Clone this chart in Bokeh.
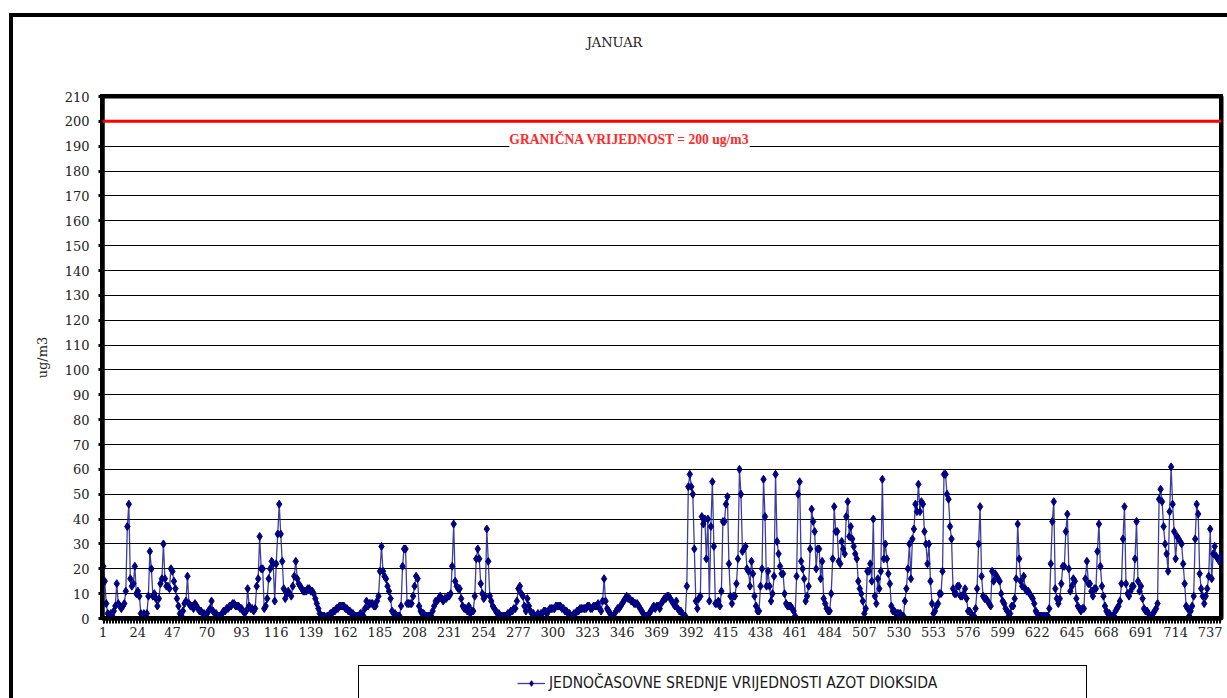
from bokeh.plotting import figure
from bokeh.layouts import column
from bokeh.models import (Range1d, FixedTicker, Span, Label,
                          Legend, LegendItem, ColumnDataSource)
from bokeh.embed import file_html
from bokeh.resources import INLINE

# ---------------- data (hourly NO2, January, ug/m3) ----------------
title_text = "JANUAR"
limit_value = 200
limit_text = "GRANIČNA VRIJEDNOST = 200 ug/m3"
y_label = "ug/m3"
series_name = "JEDNOČASOVNE SREDNJE VRIJEDNOSTI AZOT DIOKSIDA"

x_tick_values = list(range(1, 745, 23))
y_tick_values = list(range(0, 211, 10))

no2_days_01_08 = [
    21, 15, 6, 2, 1, 2, 1, 3, 5, 14, 6, 5, 4, 5, 6, 11, 37, 46, 16, 13, 14, 21, 10, 11,
    9, 2, 1, 2, 1, 2, 9, 27, 20, 9, 10, 8, 5, 8, 14, 16, 30, 16, 13, 13, 12, 20, 19, 15,
    12, 8, 5, 2, 1, 3, 6, 7, 17, 6, 5, 5, 4, 6, 5, 4, 3, 3, 2, 2, 1, 2, 3, 4,
    7, 3, 2, 2, 1, 1, 1, 2, 3, 3, 4, 4, 5, 5, 6, 6, 5, 5, 5, 4, 4, 3, 2, 3,
    12, 5, 4, 4, 3, 4, 13, 16, 33, 20, 20, 4, 5, 8, 16, 20, 23, 22, 7, 22, 34, 46, 34, 23,
    12, 8, 10, 11, 10, 9, 13, 17, 23, 16, 14, 13, 12, 11, 11, 11, 12, 12, 11, 11, 10, 8, 6, 4,
    2, 1, 1, 1, 0, 1, 1, 2, 2, 3, 3, 4, 4, 5, 5, 5, 5, 4, 4, 3, 3, 2, 2, 1,
    1, 1, 1, 2, 2, 1, 4, 7, 5, 6, 6, 6, 5, 5, 7, 9, 19, 29, 19, 17, 16, 13, 11, 8,
]
no2_days_09_16 = [
    3, 2, 2, 1, 1, 1, 5, 21, 28, 28, 6, 6, 6, 6, 9, 13, 17, 16, 5, 3, 2, 2, 1, 1,
    1, 1, 1, 3, 5, 7, 7, 8, 9, 8, 7, 8, 8, 9, 9, 10, 21, 38, 15, 13, 12, 12, 8, 5,
    4, 4, 3, 5, 2, 3, 3, 9, 24, 28, 24, 14, 10, 8, 9, 36, 23, 9, 7, 5, 4, 3, 2, 2,
    1, 1, 1, 1, 1, 2, 2, 3, 3, 4, 4, 7, 12, 13, 10, 9, 5, 3, 8, 5, 3, 2, 2, 1,
    1, 2, 1, 2, 2, 3, 3, 2, 3, 4, 4, 4, 4, 5, 5, 5, 5, 4, 4, 3, 3, 2, 2, 1,
    1, 2, 2, 3, 3, 4, 4, 4, 4, 4, 5, 5, 4, 4, 5, 5, 5, 6, 4, 3, 7, 16, 7, 4,
    3, 2, 1, 1, 2, 3, 4, 4, 5, 6, 7, 8, 9, 8, 8, 7, 7, 6, 6, 6, 5, 4, 3, 2,
    1, 1, 1, 2, 3, 4, 5, 4, 5, 5, 4, 6, 7, 8, 8, 9, 9, 8, 7, 6, 5, 7, 4, 3,
]
no2_days_17_24 = [
    3, 2, 1, 1, 13, 53, 58, 53, 50, 28, 7, 4, 8, 9, 41, 38, 40, 24, 40, 7, 37, 55, 29, 6,
    6, 7, 5, 11, 39, 39, 46, 49, 22, 9, 6, 9, 9, 14, 24, 60, 50, 27, 28, 29, 20, 19, 13, 23,
    18, 9, 5, 3, 3, 13, 20, 56, 41, 13, 19, 13, 7, 10, 17, 58, 31, 26, 21, 18, 18, 10, 6, 5,
    5, 5, 4, 3, 1, 17, 50, 55, 23, 20, 16, 7, 9, 13, 28, 44, 39, 35, 20, 28, 28, 16, 23, 8,
    6, 4, 3, 3, 10, 24, 45, 35, 35, 23, 22, 31, 28, 26, 41, 47, 33, 37, 32, 29, 26, 24, 15, 12,
    10, 7, 2, 4, 19, 19, 22, 15, 40, 9, 6, 16, 12, 19, 56, 24, 30, 24, 18, 14, 5, 3, 3, 2,
    2, 2, 2, 1, 1, 7, 12, 20, 30, 16, 32, 36, 46, 43, 54, 43, 47, 46, 35, 30, 22, 30, 15, 6,
    2, 3, 5, 6, 10, 10, 19, 58, 58, 50, 48, 37, 32, 12, 10, 10, 13, 13, 9, 9, 10, 12, 8, 3,
]
no2_days_25_31 = [
    3, 2, 1, 1, 4, 12, 30, 45, 17, 9, 8, 8, 7, 6, 5, 19, 15, 18, 17, 16, 15, 10, 7, 6,
    4, 3, 1, 2, 5, 5, 8, 16, 38, 24, 15, 13, 17, 12, 11, 11, 10, 9, 8, 6, 3, 2, 1, 1,
    1, 1, 1, 1, 1, 4, 22, 39, 47, 12, 8, 6, 8, 14, 21, 21, 35, 42, 20, 11, 13, 16, 15, 8,
    5, 4, 3, 4, 4, 16, 23, 14, 14, 11, 9, 12, 12, 27, 38, 21, 13, 9, 5, 3, 2, 2, 1, 1,
    1, 3, 4, 5, 7, 14, 32, 45, 14, 10, 9, 11, 13, 13, 24, 39, 15, 11, 13, 8, 4, 3, 3, 2,
    1, 1, 2, 3, 4, 6, 48, 52, 47, 37, 30, 26, 19, 43, 61, 46, 35, 24, 33, 32, 31, 30, 22, 14,
    5, 4, 1, 3, 5, 9, 32, 46, 42, 18, 12, 9, 6, 9, 12, 17, 36, 16, 26, 29, 25, 24, 23, 25,
]

no2 = no2_days_01_08 + no2_days_09_16 + no2_days_17_24 + no2_days_25_31
hours = list(range(1, len(no2) + 1))

# ---------------- layout (page pixels) ----------------
W = 1227
H0, H1, H2 = 60, 590, 48  # title strip, chart figure, legend strip
ML, MT, MR = 102, 96, 6   # MT: frame top in page pixels
FB = 618                  # frame bottom (page y)
MB = H0 + H1 - FB
FW = W - ML - MR
FH = FB - MT
X0, X1 = 0.5, 744.5
Y0, Y1 = 0, 210
PX = FW / (X1 - X0)
PY = FH / (Y1 - Y0)
FR = W - MR


def dx(fx):  # page pixel x -> data x
    return X0 + (fx - ML) / PX


def dy(fy):  # page pixel y -> data y
    return Y1 - (fy - MT) / PY


def css_lines(lines):
    return {
        "background-image": ", ".join(["linear-gradient(#000000, #000000)"] * len(lines)),
        "background-size": ", ".join(f"{w}px {h}px" for (_, _, w, h) in lines),
        "background-position": ", ".join(f"{l}px {t}px" for (l, t, _, _) in lines),
        "background-repeat": "no-repeat",
    }


def strip(height, lines, y_range):
    s = figure(width=W, height=height, output_backend="svg", toolbar_location=None,
               x_range=Range1d(X0, X1), y_range=y_range,
               min_border=0, min_border_left=0, min_border_right=0,
               min_border_top=0, min_border_bottom=0,
               x_axis_type=None, y_axis_type=None, styles=css_lines(lines))
    s.background_fill_alpha = 0
    s.border_fill_alpha = 0
    s.outline_line_color = None
    s.grid.visible = False
    return s


serif = "DejaVu Serif"

# ---------------- title strip ----------------
p0 = strip(H0, [(9, 13, 4, 2000), (9, 13, 2000, 4)], Range1d(0, H0))
p0.add_layout(Label(x=dx(614), y=H0 - 42, text=title_text,
                    text_align="center", text_baseline="middle",
                    text_font=serif, text_font_size="13px",
                    text_color="#222222"))

# ---------------- chart ----------------
chart_lines = [
    (9, 0, 4, 2000),                       # outer frame, left (continued)
    (ML - 2, MT - H0 - 2, 4, FH + 4),      # plot area left
    (ML - 2, MT - H0 - 2, FW + 4, 4),      # plot area top
    (FR - 2, MT - H0 - 2, 4, FH + 4),      # plot area right
    (ML - 2, FB - H0 - 2, FW + 4, 4),      # plot area bottom
]

p = figure(width=W, height=H1, output_backend="svg", toolbar_location=None,
           x_range=Range1d(X0, X1), y_range=Range1d(Y0, Y1),
           min_border_left=ML, min_border_top=MT - H0, min_border_right=MR,
           min_border_bottom=MB, styles=css_lines(chart_lines))
p.background_fill_alpha = 0
p.border_fill_alpha = 0
p.outline_line_color = "black"
p.outline_line_width = 4
p.title.text = ""
p.title.standoff = 0

# axes
p.xaxis.ticker = FixedTicker(ticks=x_tick_values, minor_ticks=hours)
p.xaxis.axis_line_width = 4
p.xaxis.major_tick_out = 5
p.xaxis.major_tick_in = 0
p.xaxis.minor_tick_out = 5
p.xaxis.minor_tick_in = 0
p.xaxis.major_tick_line_width = 1
p.xaxis.minor_tick_line_width = 1
p.xaxis.major_label_standoff = 3
p.xaxis.major_label_text_font = serif
p.xaxis.major_label_text_font_size = "13px"
p.xaxis.major_label_text_color = "#222222"

p.yaxis.ticker = FixedTicker(ticks=y_tick_values, minor_ticks=[])
p.yaxis.axis_line_width = 4
p.yaxis.major_tick_out = 4
p.yaxis.major_tick_in = 0
p.yaxis.major_tick_line_width = 3
p.yaxis.minor_tick_line_color = None
p.yaxis.major_label_standoff = 9
p.yaxis.major_label_text_font = serif
p.yaxis.major_label_text_font_size = "13px"
p.yaxis.major_label_text_color = "#222222"
p.yaxis.axis_label = y_label
p.yaxis.axis_label_text_font = serif
p.yaxis.axis_label_text_font_size = "13px"
p.yaxis.axis_label_text_font_style = "normal"
p.yaxis.axis_label_text_color = "#222222"
p.yaxis.axis_label_standoff = 12

p.xgrid.visible = False
p.ygrid.ticker = FixedTicker(ticks=y_tick_values)
p.ygrid.grid_line_color = "black"
p.ygrid.grid_line_width = 1.2

# limit line
p.add_layout(Span(location=limit_value, dimension="width",
                  line_color="#ff0000", line_width=3))

# series
line_style = dict(line_color="#1c1c8f", line_width=1.3, line_alpha=0.85)
marker_style = dict(marker="diamond", size=8, fill_color="#000080",
                    line_color="#000080")
src = ColumnDataSource(dict(sat=hours, no2=no2))
p.line("sat", "no2", source=src, **line_style)
p.scatter("sat", "no2", source=src, **marker_style)

# limit label (white background hides the 190 gridline)
p.add_layout(Label(x=dx(629), y=dy(139), text=limit_text,
                   text_align="center", text_baseline="middle",
                   text_font="Liberation Serif", text_font_style="bold",
                   text_font_size="13.6px", text_color="#ff2a2a",
                   background_fill_color="white"))

# ---------------- legend strip ----------------
legend_top = 665 - H0 - H1
legend_lines = [
    (9, 0, 4, 2000),              # outer frame, left (continued)
    (358, legend_top, 1, 200),    # legend box left
    (1086, legend_top, 1, 200),   # legend box right
    (358, legend_top, 729, 1),    # legend box top
]
# the strip's y range lies far below the data, so its own copies of the
# series are clipped away and only serve as legend samples
p2 = strip(H2, legend_lines, Range1d(-1000, -1000 + H2))
lg_line = p2.line("sat", "no2", source=src, **line_style)
lg_mark = p2.scatter("sat", "no2", source=src, **marker_style)

legend = Legend(items=[LegendItem(label=series_name, renderers=[lg_line, lg_mark])],
                location=(517 - ML, 6), orientation="horizontal",
                border_line_alpha=0, background_fill_alpha=0,
                padding=0, margin=0, spacing=0,
                glyph_width=28, glyph_height=14, label_standoff=4,
                label_text_font="'Liberation Sans Narrow', 'DejaVu Sans Condensed', sans-serif",
                label_text_font_size="15.5px", label_text_color="#1a1a1a")
p2.add_layout(legend)

layout = column(p0, p, p2, spacing=0)
open("out.html", "w").write(file_html(layout, INLINE))
